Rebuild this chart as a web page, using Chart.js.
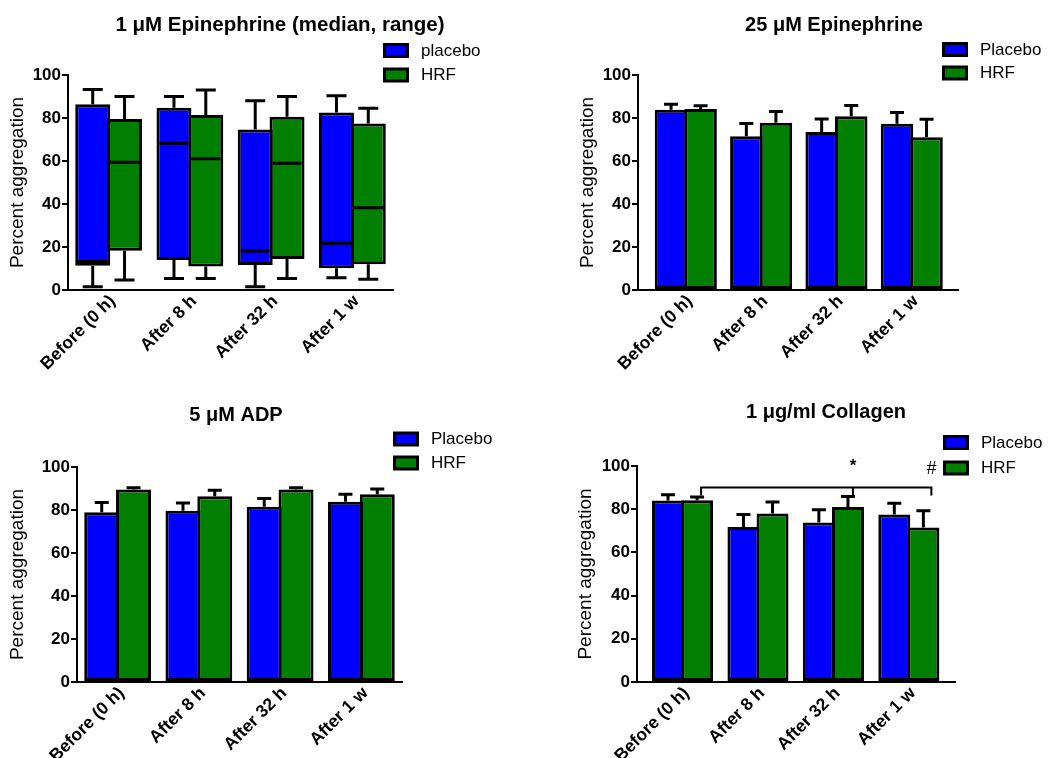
<!DOCTYPE html>
<html>
<head>
<meta charset="utf-8">
<script src="https://cdn.jsdelivr.net/npm/chart.js@4.4.1/dist/chart.umd.min.js"></script>
<style>
  html, body { margin: 0; padding: 0; background: #fff; }
  #page { position: relative; width: 1054px; height: 758px; }
  canvas { position: absolute; }
</style>
</head>
<body>
<div id="page">
  <canvas id="epi1" width="527" height="379" style="left:0;top:0"></canvas>
  <canvas id="epi25" width="527" height="379" style="left:527px;top:0"></canvas>
  <canvas id="adp" width="527" height="379" style="left:0;top:379px"></canvas>
  <canvas id="collagen" width="527" height="379" style="left:527px;top:379px"></canvas>
</div>
<script>
const categories = ["Before (0 h)", "After 8 h", "After 32 h", "After 1 w"];
const yTicks = [0, 20, 40, 60, 80, 100];

// 1 uM epinephrine, median and range (box = interquartile)
const epi1PlaceboMin = [1.5, 5.4, 1.5, 5.7];
const epi1PlaceboQ1 = [11.3, 14, 11.6, 10.1];
const epi1PlaceboMedian = [13.2, 68.2, 18.1, 21.7];
const epi1PlaceboQ3 = [86.4, 84.8, 74.7, 82.6];
const epi1PlaceboMax = [93.3, 90, 88, 90.4];
const epi1HrfMin = [4.6, 5.4, 5.4, 5];
const epi1HrfQ1 = [18.3, 10.9, 14.4, 12];
const epi1HrfMedian = [59.4, 61, 58.9, 38.3];
const epi1HrfQ3 = [79.5, 81.4, 80.6, 77.5];
const epi1HrfMax = [90, 93, 90, 84.5];

// 25 uM epinephrine, mean + error
const epi25Placebo = [83.8, 71.5, 73.5, 77.3];
const epi25PlaceboErr = [2.6, 6, 6, 5.3];
const epi25Hrf = [84.2, 77.8, 80.8, 71.1];
const epi25HrfErr = [1.5, 5.2, 5, 8.3];

// 5 uM ADP
const adpPlacebo = [79, 79.6, 81.5, 83.8];
const adpPlaceboErr = [4.5, 3.6, 3.8, 3.5];
const adpHrf = [89.5, 86.4, 89.5, 87.3];
const adpHrfErr = [0.8, 2.8, 0.9, 2.5];

// 1 ug/ml collagen
const colPlacebo = [84, 71.8, 73.8, 77.6];
const colPlaceboErr = [2.7, 5.8, 6, 5.1];
const colHrf = [84.1, 78, 81, 71.5];
const colHrfErr = [1.6, 5.3, 4.9, 7.8];
const sigLevel = 90;
const sigFrom = 0;
const sigTo = 3;
const sigMarkIndex = [2, 3];
const sigMarkText = ["*", "#"];

const BLUE = "#0000ff";
const GREEN = "#007f00";
const FONT = '"Liberation Sans", Arial, sans-serif';

Chart.defaults.font.family = FONT;
Chart.defaults.color = "#000";
Chart.defaults.animation = false;

// title + legend drawn next to the plot, like the Prism layout
const panelDecor = {
  id: "panelDecor",
  afterDraw(chart, args, o) {
    const ctx = chart.ctx;
    ctx.save();
    ctx.fillStyle = "#000";
    ctx.font = "bold " + o.titleSize + "px " + FONT;
    ctx.textAlign = "center";
    ctx.textBaseline = "middle";
    ctx.fillText(o.title, o.titleX, o.titleY);
    ctx.font = "17px " + FONT;
    ctx.textAlign = "left";
    chart.data.datasets.forEach((ds, i) => {
      const y = o.legendY + i * o.legendGap;
      ctx.fillStyle = "#000";
      ctx.fillRect(o.legendX, y, 26, 15);
      ctx.fillStyle = ds.backgroundColor;
      ctx.fillRect(o.legendX + 3, y + 3, 20, 9);
      ctx.fillStyle = "#000";
      ctx.fillText(ds.label, o.legendX + 38, y + 8);
    });
    ctx.restore();
  },
};

const errorBars = {
  id: "errorBars",
  afterDatasetsDraw(chart, args, o) {
    if (!o.errors) return;
    const ctx = chart.ctx;
    const yScale = chart.scales.y;
    ctx.save();
    ctx.strokeStyle = "#000";
    ctx.lineWidth = 3;
    o.values.forEach((vals, di) => {
      chart.getDatasetMeta(di).data.forEach((bar, i) => {
        const top = yScale.getPixelForValue(vals[i] + o.errors[di][i]);
        ctx.beginPath();
        ctx.moveTo(bar.x, bar.y);
        ctx.lineTo(bar.x, top);
        ctx.moveTo(bar.x - 7, top);
        ctx.lineTo(bar.x + 7, top);
        ctx.stroke();
      });
    });
    ctx.restore();
  },
};

const boxWhiskers = {
  id: "boxWhiskers",
  afterDatasetsDraw(chart, args, o) {
    if (!o.sets) return;
    const ctx = chart.ctx;
    const yScale = chart.scales.y;
    ctx.save();
    ctx.strokeStyle = "#000";
    ctx.lineWidth = 3;
    o.sets.forEach((set, di) => {
      chart.getDatasetMeta(di).data.forEach((bar, i) => {
        const top = Math.min(bar.y, bar.base);
        const bottom = Math.max(bar.y, bar.base);
        const yMax = yScale.getPixelForValue(set.max[i]);
        const yMin = yScale.getPixelForValue(set.min[i]);
        const yMed = yScale.getPixelForValue(set.median[i]);
        ctx.beginPath();
        ctx.moveTo(bar.x, top);
        ctx.lineTo(bar.x, yMax);
        ctx.moveTo(bar.x - 10, yMax);
        ctx.lineTo(bar.x + 10, yMax);
        ctx.moveTo(bar.x, bottom);
        ctx.lineTo(bar.x, yMin);
        ctx.moveTo(bar.x - 10, yMin);
        ctx.lineTo(bar.x + 10, yMin);
        ctx.moveTo(bar.x - bar.width / 2 + 3, yMed);
        ctx.lineTo(bar.x + bar.width / 2 - 3, yMed);
        ctx.stroke();
      });
    });
    ctx.restore();
  },
};

const sigBracket = {
  id: "sigBracket",
  afterDatasetsDraw(chart, args, o) {
    if (!o.show) return;
    const ctx = chart.ctx;
    const bars = chart.getDatasetMeta(1).data;
    const yl = chart.scales.y.getPixelForValue(sigLevel);
    ctx.save();
    ctx.strokeStyle = "#000";
    ctx.lineWidth = 2;
    ctx.beginPath();
    ctx.moveTo(bars[sigFrom].x + 4, yl + 8);
    ctx.lineTo(bars[sigFrom].x + 4, yl);
    ctx.lineTo(bars[sigTo].x + 8, yl);
    ctx.lineTo(bars[sigTo].x + 8, yl + 8);
    ctx.moveTo(bars[sigMarkIndex[0]].x + 5, yl);
    ctx.lineTo(bars[sigMarkIndex[0]].x + 5, yl + 8);
    ctx.stroke();
    ctx.fillStyle = "#000";
    ctx.textAlign = "center";
    ctx.textBaseline = "middle";
    sigMarkIndex.forEach((idx, k) => {
      const x = bars[idx].x + (idx === sigTo ? 8 : 5);
      ctx.font = sigMarkText[k] === "#" ? "italic 18px " + FONT : "bold 17px " + FONT;
      ctx.fillText(sigMarkText[k], x, yl - (sigMarkText[k] === "#" ? 19 : 21));
    });
    ctx.restore();
  },
};

// x is a linear index axis so the Prism-style gap between the y axis and the first group can be kept
function makeScales(yWidth, xHeight, xMin, xMax) {
  return {
    x: {
      type: "linear",
      min: xMin,
      max: xMax,
      offset: false,
      afterBuildTicks: (s) => { s.ticks = categories.map((c, i) => ({ value: i })); },
      grid: { display: false, offset: false },
      border: { color: "#000", width: 2 },
      ticks: {
        color: "#000",
        font: { size: 17.5, weight: "bold" },
        minRotation: 45,
        maxRotation: 45,
        autoSkip: false,
        padding: -7,
        labelOffset: 4,
        callback: (v) => categories[v],
      },
      afterFit: (s) => { s.height = xHeight; },
    },
    y: {
      min: 0,
      max: 100,
      afterBuildTicks: (s) => { s.ticks = yTicks.map((v) => ({ value: v })); },
      grid: { drawOnChartArea: false, color: "#000", lineWidth: 2, tickLength: 6 },
      border: { color: "#000", width: 2 },
      ticks: { color: "#000", font: { size: 17, weight: "bold" }, padding: 1 },
      title: {
        display: true,
        text: "Percent aggregation",
        color: "#000",
        font: { size: 19 },
        padding: { top: 6, bottom: 4 },
      },
      afterFit: (s) => { s.width = yWidth; },
    },
  };
}

function barSet(label, data, color, catPct) {
  return {
    label: label,
    data: data.map((v, i) => ({ x: i, y: v })),
    backgroundColor: color,
    borderColor: "#000",
    borderWidth: 3,
    borderSkipped: false,
    barPercentage: 1.1,
    categoryPercentage: catPct,
  };
}

// panel 1: box plots as floating bars
new Chart("epi1", {
  type: "bar",
  data: {
    datasets: [
      barSet("placebo", epi1PlaceboQ1.map((q, i) => [q, epi1PlaceboQ3[i]]), BLUE, 0.783),
      barSet("HRF", epi1HrfQ1.map((q, i) => [q, epi1HrfQ3[i]]), GREEN, 0.783),
    ],
  },
  options: {
    responsive: false,
    layout: { padding: { left: 0, top: 75, right: 134, bottom: 0 } },
    scales: makeScales(68, 89, -0.5, 3.5),
    plugins: {
      legend: { display: false },
      title: { display: false },
      tooltip: { enabled: false },
      panelDecor: {
        title: "1 \u03bcM Epinephrine (median, range)", titleSize: 20.5,
        titleX: 280, titleY: 25,
        legendX: 383, legendY: 43, legendGap: 24.5,
      },
      boxWhiskers: {
        sets: [
          { min: epi1PlaceboMin, median: epi1PlaceboMedian, max: epi1PlaceboMax },
          { min: epi1HrfMin, median: epi1HrfMedian, max: epi1HrfMax },
        ],
      },
    },
  },
  plugins: [panelDecor, boxWhiskers],
});

new Chart("epi25", {
  type: "bar",
  data: {
    datasets: [
      barSet("Placebo", epi25Placebo, BLUE, 0.785),
      barSet("HRF", epi25Hrf, GREEN, 0.785),
    ],
  },
  options: {
    responsive: false,
    layout: { padding: { left: 43, top: 75, right: 96, bottom: 0 } },
    scales: makeScales(68, 89, -0.635, 3.614),
    plugins: {
      legend: { display: false },
      title: { display: false },
      tooltip: { enabled: false },
      panelDecor: {
        title: "25 \u03bcM Epinephrine", titleSize: 20,
        titleX: 307, titleY: 25,
        legendX: 415, legendY: 42, legendGap: 23.5,
      },
      errorBars: { values: [epi25Placebo, epi25Hrf], errors: [epi25PlaceboErr, epi25HrfErr] },
    },
  },
  plugins: [panelDecor, errorBars],
});

new Chart("adp", {
  type: "bar",
  data: {
    datasets: [
      barSet("Placebo", adpPlacebo, BLUE, 0.783),
      barSet("HRF", adpHrf, GREEN, 0.783),
    ],
  },
  options: {
    responsive: false,
    layout: { padding: { left: 0, top: 88, right: 125, bottom: 0 } },
    scales: makeScales(77, 76, -0.5, 3.5),
    plugins: {
      legend: { display: false },
      title: { display: false },
      tooltip: { enabled: false },
      panelDecor: {
        title: "5 \u03bcM ADP", titleSize: 20,
        titleX: 236, titleY: 36,
        legendX: 393, legendY: 52.5, legendGap: 24,
      },
      errorBars: { values: [adpPlacebo, adpHrf], errors: [adpPlaceboErr, adpHrfErr] },
    },
  },
  plugins: [panelDecor, errorBars],
});

new Chart("collagen", {
  type: "bar",
  data: {
    datasets: [
      barSet("Placebo", colPlacebo, BLUE, 0.771),
      barSet("HRF", colHrf, GREEN, 0.771),
    ],
  },
  options: {
    responsive: false,
    layout: { padding: { left: 41, top: 87, right: 99, bottom: 0 } },
    scales: makeScales(69, 76, -0.604, 3.612),
    plugins: {
      legend: { display: false },
      title: { display: false },
      tooltip: { enabled: false },
      panelDecor: {
        title: "1 \u03bcg/ml Collagen", titleSize: 20,
        titleX: 299, titleY: 33,
        legendX: 416, legendY: 56, legendGap: 25.5,
      },
      errorBars: { values: [colPlacebo, colHrf], errors: [colPlaceboErr, colHrfErr] },
      sigBracket: { show: true },
    },
  },
  plugins: [panelDecor, errorBars, sigBracket],
});
</script>
</body>
</html>
